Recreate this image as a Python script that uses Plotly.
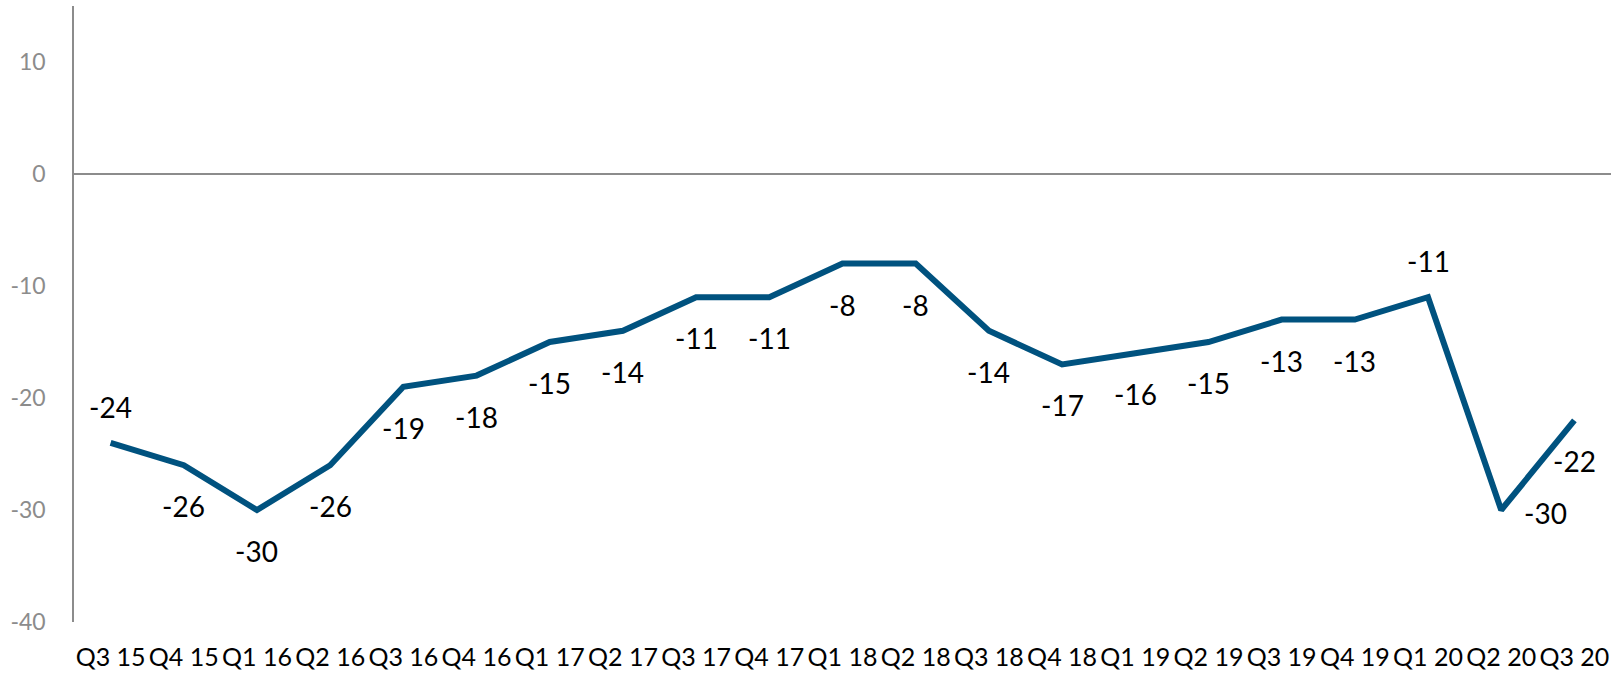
import plotly.graph_objects as go

categories = ["Q3 15", "Q4 15", "Q1 16", "Q2 16", "Q3 16", "Q4 16", "Q1 17", "Q2 17",
              "Q3 17", "Q4 17", "Q1 18", "Q2 18", "Q3 18", "Q4 18", "Q1 19", "Q2 19",
              "Q3 19", "Q4 19", "Q1 20", "Q2 20", "Q3 20"]
values = [-24, -26, -30, -26, -19, -18, -15, -14, -11, -11, -8, -8, -14, -17, -16, -15,
          -13, -13, -11, -30, -22]
label_pos = ["above", "below", "below", "below", "below", "below", "below", "below",
             "below", "below", "below", "below", "below", "below", "below", "below",
             "below", "below", "above", "right", "below"]
y_ticks = [-40, -30, -20, -10, 0, 10]
y_tick_labels = ["-40", "-30", "-20", "-10", "0", "10"]

LINE_COLOR = "#00527f"
GRAY = "#8c8c8c"

fig = go.Figure()
fig.add_trace(go.Scatter(
    x=categories, y=values, mode="lines",
    line=dict(color=LINE_COLOR, width=6),
    hoverinfo="x+y", showlegend=False,
))

shifts = {"above": (0, 36), "below": (0, -41), "right": (44, -3)}
for c, v, p in zip(categories, values, label_pos):
    xs, ys = shifts[p]
    fig.add_annotation(x=c, y=v, text=str(v), showarrow=False,
                       xshift=xs, yshift=ys, xanchor="center", yanchor="middle",
                       font=dict(family="Lato", size=28, color="#000000"))

fig.update_layout(
    width=1616, height=674,
    margin=dict(l=74, r=5, t=6, b=52),
    paper_bgcolor="white", plot_bgcolor="white",
    font=dict(family="Lato"),
)
fig.update_xaxes(
    type="category", range=[-0.5, len(categories) - 0.5],
    showline=False, showgrid=False, zeroline=False, ticks="",
    tickfont=dict(family="Lato", size=25, color="#000000"),
    ticklabelstandoff=18, automargin=False,
)
fig.update_yaxes(
    range=[-40, 15], tickvals=y_ticks, ticktext=y_tick_labels, showgrid=False,
    showline=True, linecolor=GRAY, linewidth=1.5,
    zeroline=True, zerolinecolor=GRAY, zerolinewidth=1.5,
    ticks="", tickfont=dict(family="Lato", size=23, color=GRAY),
    ticklabelstandoff=22, automargin=False,
)

fig.write_html(
    "out.html",
    config={"displayModeBar": False},
    post_script="document.body.style.margin='0';document.body.style.padding='0';"
                "document.body.style.overflow='hidden';",
)
